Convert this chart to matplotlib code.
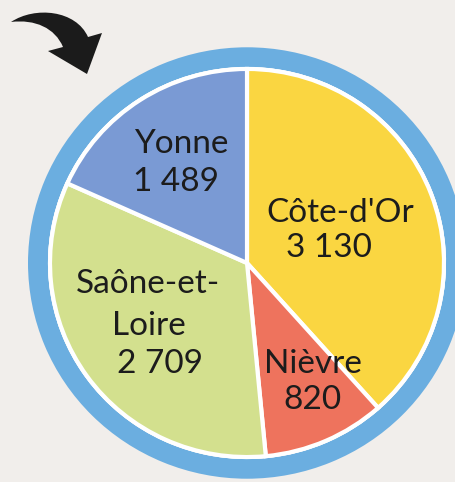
import matplotlib.pyplot as plt
from matplotlib.patches import Wedge, Circle, PathPatch
from matplotlib.path import Path

# data
depts = ["Côte-d'Or", "Nièvre", "Saône-et-Loire", "Yonne"]
values = [3130, 820, 2709, 1489]
label_lines = [["Côte-d'Or", "3 130"], ["Nièvre", "820"],
               ["Saône-et-", "Loire", "2 709"], ["Yonne", "1 489"]]
colors = ["#fad641", "#ee735d", "#d3e08e", "#7a9ad4"]

bg = "#f1eeeb"
ring_col = "#6baee0"
txt_col = "#1c1c1c"

W, H = 456, 482
sq = 0.985  # slight vertical squash seen in the picture

def px(x, y):
    # pixel coords (y from top) -> data coords
    return x, (H - y) / sq

fig = plt.figure(figsize=(W / 100, H / 100), dpi=100, facecolor=bg)
ax = fig.add_axes([0, 0, 1, 1])
ax.set_facecolor(bg)

cx, cy = px(247, 263)

ax.add_patch(Wedge((cx, cy), 219, 0, 360, width=20, facecolor=ring_col, edgecolor="none"))
ax.add_patch(Circle((cx, cy), 199, facecolor="white", edgecolor="none"))

ax.pie(values, colors=colors, startangle=90, counterclock=False,
       radius=197, center=(cx, cy), frame=True,
       wedgeprops=dict(edgecolor="white", linewidth=3))

# label baselines (pixels)
label_pos = [[(340, 222), (329, 257)],
             [(313, 373), (312, 409)],
             [(148, 293), (149, 335), (160, 373)],
             [(181, 153), (176, 191)]]
for lines, pos in zip(label_lines, label_pos):
    for s, (x, y) in zip(lines, pos):
        ax.text(*px(x, y), s, ha="center", va="baseline", fontsize=24,
                family=["Lato", "DejaVu Sans"], color=txt_col)

# curved arrow, top left
pts = [px(11, 22),
       px(35, 6), px(76, 10), px(88, 37),
       px(102, 33), px(87, 74), px(48, 51), px(63, 47),
       px(55, 28), px(35, 19), px(11, 22)]
codes = [Path.MOVETO,
         Path.CURVE4, Path.CURVE4, Path.CURVE4,
         Path.LINETO, Path.LINETO, Path.LINETO, Path.LINETO,
         Path.CURVE4, Path.CURVE4, Path.CURVE4]
ax.add_patch(PathPatch(Path(pts, codes), facecolor="#1b1b1b", edgecolor="none"))

ax.set_aspect("auto")
ax.set_xlim(0, W)
ax.set_ylim(0, H / sq)
ax.axis("off")

fig.savefig("out.png", dpi=100, facecolor=bg)
